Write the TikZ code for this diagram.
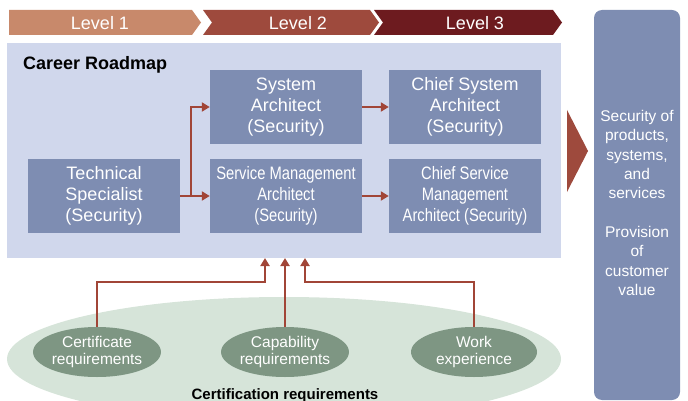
\documentclass[tikz,border=0pt]{standalone}
\usepackage{fontspec}
\setmainfont{Liberation Sans}
\newfontfamily\condfont[FakeStretch=0.82]{Liberation Sans}
\usetikzlibrary{arrows.meta,shapes.geometric}
\definecolor{lvlA}{HTML}{C8896B}
\definecolor{lvlB}{HTML}{9E4A3D}
\definecolor{lvlC}{HTML}{6D1B1F}
\definecolor{panelc}{HTML}{D0D7EC}
\definecolor{boxc}{HTML}{7E8DB2}
\definecolor{arrowc}{HTML}{A14537}
\definecolor{bigell}{HTML}{D6E4D9}
\definecolor{smallell}{HTML}{7E9683}
\tikzset{
  rolebox/.style={rectangle, fill=boxc, text=white, align=center, minimum width=152pt, minimum height=74pt, inner sep=0pt, font=\fontsize{18}{21}\selectfont},
  condbox/.style={rolebox, font=\condfont\fontsize{18}{21}\selectfont},
  lvltext/.style={text=white, font=\fontsize{18}{20}\selectfont, inner sep=0pt},
  reqell/.style={ellipse, fill=smallell, text=white, align=center, minimum width=126pt, minimum height=50pt, inner sep=0pt, font=\fontsize{15.5}{16.5}\selectfont},
  arr/.style={draw=arrowc, line width=2.5pt, -{Triangle[length=8pt,width=9pt]}},
}
\begin{document}
\begin{tikzpicture}[x=1pt,y=-1pt]
\useasboundingbox (0,0) rectangle (688,401);
% level banner
\fill[lvlA] (9,10) -- (192,10) -- (201,22.5) -- (192,35) -- (9,35) -- cycle;
\fill[lvlB] (203,10) -- (370,10) -- (379,22.5) -- (370,35) -- (203,35) -- (212,22.5) -- cycle;
\fill[lvlC] (374,10) -- (553,10) -- (562,22.5) -- (553,35) -- (374,35) -- (383,22.5) -- cycle;
\node[lvltext] (l1) at (100,23) {Level 1};
\node[lvltext] (l2) at (298,23) {Level 2};
\node[lvltext] (l3) at (475,23) {Level 3};
% panel
\node[rectangle, fill=panelc, minimum width=554pt, minimum height=215pt, inner sep=0pt] (panel) at (284,150.5) {};
\node[anchor=base west, inner sep=0pt, font=\bfseries\fontsize{18}{20}\selectfont] (title) at (23,70) {Career Roadmap};
% role boxes
\node[rolebox] (sa) at (286,107) {System\\Architect\\(Security)};
\node[rolebox] (csa) at (465,107) {Chief System\\Architect\\(Security)};
\node[rolebox] (ts) at (104,196) {Technical\\Specialist\\(Security)};
\node[condbox] (sma) at (286,196) {Service Management\\Architect\\(Security)};
\node[condbox] (csma) at (465,196) {Chief Service\\Management\\Architect (Security)};
\coordinate (j) at (191,196);
\draw[arr] (ts.east) -- (sma.west);
\draw[arr] (j) |- (sa.west);
\draw[arr] (sa.east) -- (csa.west);
\draw[arr] (sma.east) -- (csma.west);
% right side
\fill[lvlB] (567,110) -- (588,151) -- (567,192) -- cycle;
\node[rectangle, rounded corners=8pt, fill=boxc, minimum width=86pt, minimum height=390pt, inner sep=0pt] (out) at (637,205) {};
\node[text=white, align=center, inner sep=0pt, font=\fontsize{15.5}{19.3}\selectfont] (outtxt) at (637,203) {Security of\\products,\\systems,\\and\\services\\[19.3pt]Provision\\of\\customer\\value};
% certification requirements
\node[ellipse, fill=bigell, minimum width=554pt, minimum height=124pt, inner sep=0pt] (cert) at (284,359) {};
\node[font=\bfseries\fontsize{15}{17}\selectfont, inner sep=0pt, anchor=base] (certlbl) at (285,399) {Certification requirements};
\node[reqell] (c1) at (97,352) {Certificate\\requirements};
\node[reqell] (c2) at (285,352) {Capability\\requirements};
\node[reqell] (c3) at (474,352) {Work\\experience};
\coordinate (p1) at (265,258);
\coordinate (p2) at (285,258);
\coordinate (p3) at (305,258);
\coordinate (k1) at (265,282);
\coordinate (k3) at (305,282);
\draw[arr] (c1.north) |- (k1) -- (p1);
\draw[arr] (c2.north) -- (p2);
\draw[arr] (c3.north) |- (k3) -- (p3);
\end{tikzpicture}
\end{document}
